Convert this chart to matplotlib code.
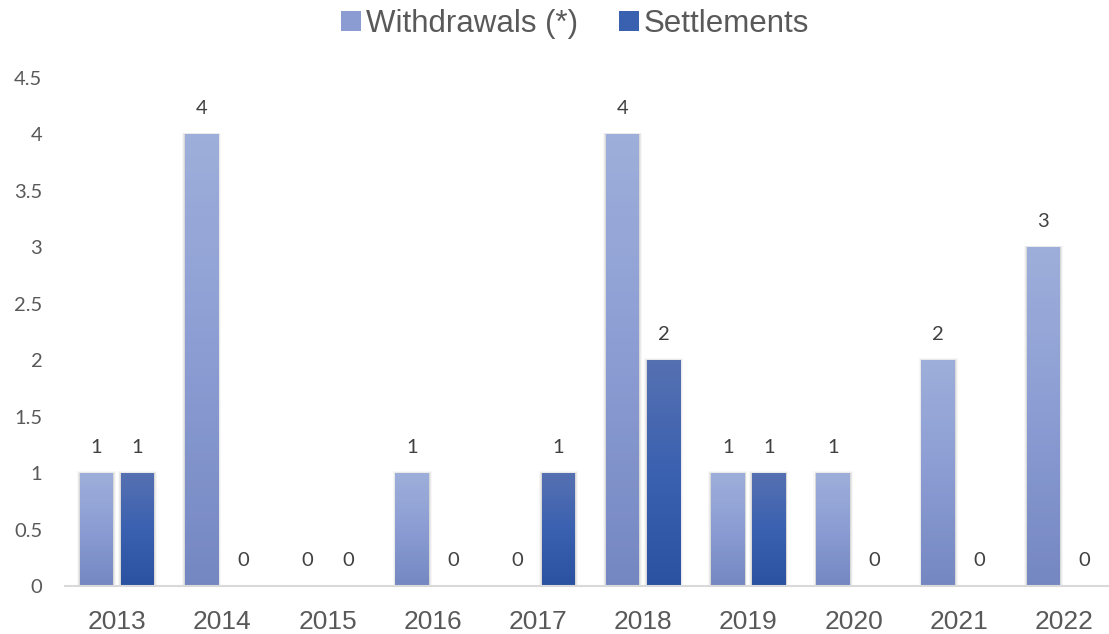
import numpy as np
import matplotlib.pyplot as plt
from matplotlib.colors import LinearSegmentedColormap
from matplotlib.patches import Patch

years = ["2013", "2014", "2015", "2016", "2017", "2018", "2019", "2020", "2021", "2022"]
withdrawals = [1, 4, 0, 1, 0, 4, 1, 1, 2, 3]
settlements = [1, 0, 0, 0, 1, 2, 1, 0, 0, 0]
yticks = [0, 0.5, 1, 1.5, 2, 2.5, 3, 3.5, 4, 4.5]
ytick_labels = ["0", "0.5", "1", "1.5", "2", "2.5", "3", "3.5", "4", "4.5"]

# gradient fills, top -> bottom
cmap_w = LinearSegmentedColormap.from_list("w", ["#9DAEDA", "#8B9CD3", "#7587C1"])
cmap_s = LinearSegmentedColormap.from_list("s", ["#5570B1", "#3A60B0", "#2A52A0"])

fig = plt.figure(figsize=(11.09, 6.34), dpi=100)
ax = fig.add_axes([64.5 / 1109, 48 / 634, (1116.6 - 64.5) / 1109, (586 - 78) / 634])

x = np.arange(len(years))
w = 0.32
off = 0.195
n = 60

for pos, vals, cmap in [(x - off, withdrawals, cmap_w), (x + off, settlements, cmap_s)]:
    vals = np.array(vals, dtype=float)
    # soft shadow behind the bars
    for k, a in [(0.008, 0.08), (0.016, 0.05), (0.026, 0.03)]:
        ax.bar(pos, np.where(vals > 0, vals + k * 0.6, 0), w + 2 * k, color="black",
               alpha=a, lw=0, zorder=1)
    # gradient: stacked slices, each one running up to the top of the bar
    for i in range(n):
        bottom = vals * i / n
        ax.bar(pos, vals - bottom, w, bottom=bottom, color=cmap(1 - i / (n - 1)),
               lw=0, zorder=2)

for pos, vals in [(x - off, withdrawals), (x + off, settlements)]:
    for px, v in zip(pos, vals):
        ax.annotate(f"{v}", (px, v), xytext=(0, 18.5), textcoords="offset points",
                    ha="center", va="center", fontsize=14.5, color="#404040", family="Lato")

ax.set_xlim(-0.5, len(years) - 0.5)
ax.set_ylim(0, 4.5)
ax.set_xticks(x)
ax.set_xticklabels(years, fontsize=19, color="#595959", family="Liberation Sans")
ax.set_yticks(yticks)
ax.set_yticklabels(ytick_labels, fontsize=14.5, color="#595959", family="Lato")
ax.tick_params(axis="x", length=0, pad=17)
ax.tick_params(axis="y", length=0, pad=16)

for s in ["top", "right", "left"]:
    ax.spines[s].set_visible(False)
ax.spines["bottom"].set_color("#D9D9D9")
ax.spines["bottom"].set_linewidth(1.5)
ax.spines["bottom"].set_zorder(3)

handles = [Patch(facecolor="#8B9CD3", label="Withdrawals (*)"),
           Patch(facecolor="#3A60B0", label="Settlements")]
fig.legend(handles=handles, loc="center", bbox_to_anchor=(575 / 1109, 1 - 24 / 634), ncol=2,
           frameon=False, prop={"family": "Liberation Sans", "size": 22.5},
           labelcolor="#595959", handlelength=0.65, handleheight=0.65, handletextpad=0.15,
           columnspacing=1.3)

fig.savefig("out.png", dpi=100)
